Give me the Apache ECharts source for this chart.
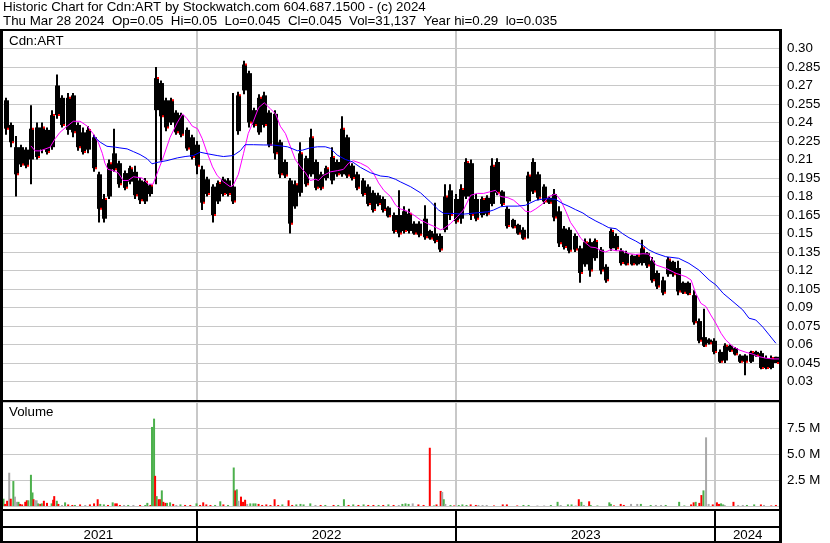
<!DOCTYPE html>
<html><head><meta charset="utf-8">
<script src="https://cdn.jsdelivr.net/npm/echarts/dist/echarts.min.js"></script>
<style>html,body{margin:0;padding:0;background:#fff}#c{width:830px;height:543px}</style>
</head><body><div id="c"></div>
<script>
// ---- DATA (weekly bars, week index 0..149, Apr 2021 - Mar 28 2024) ----
const wkHigh = [.260,.240,.229,.222,.220,.254,.240,.240,.236,.250,.279,.262,.264,.264,.240,.236,.237,.230,.200,.182,
.210,.235,.209,.201,.205,.205,.195,.195,.190,.285,.274,.260,.260,.250,.248,.236,.230,.225,.205,.196,
.190,.193,.196,.195,.264,.265,.290,.282,.252,.263,.265,.250,.250,.226,.210,.195,.193,.224,.213,.235,
.210,.200,.205,.220,.210,.245,.230,.207,.200,.195,.190,.185,.183,.180,.172,.167,.185,.172,.170,.160,
.160,.173,.153,.175,.150,.190,.190,.182,.190,.211,.210,.182,.180,.181,.211,.211,.185,.172,.162,.158,
.155,.200,.211,.200,.190,.180,.186,.172,.156,.155,.150,.140,.146,.146,.146,.139,.125,.154,.150,.138,
.136,.133,.133,.145,.135,.131,.120,.115,.131,.128,.128,.111,.111,.104,.081,.089,.065,.065,.056,.061,
.060,.058,.052,.052,.055,.055,.055,.051,.051,.050];
const wkLow = [.230,.220,.180,.204,.203,.190,.210,.215,.214,.218,.243,.236,.230,.228,.217,.214,.215,.200,.159,.159,
.178,.200,.187,.185,.190,.178,.174,.174,.180,.190,.209,.233,.238,.230,.228,.217,.210,.198,.169,.180,
.159,.174,.180,.180,.174,.230,.263,.236,.236,.230,.236,.220,.210,.195,.195,.150,.170,.180,.188,.196,
.185,.185,.193,.190,.196,.196,.195,.193,.185,.180,.172,.167,.172,.167,.163,.150,.147,.150,.150,.149,
.147,.145,.145,.142,.135,.151,.161,.158,.158,.178,.161,.160,.163,.164,.172,.181,.172,.154,.154,.149,
.145,.146,.182,.177,.174,.174,.160,.139,.137,.134,.135,.110,.123,.115,.128,.117,.110,.136,.136,.124,
.124,.124,.124,.124,.122,.110,.105,.100,.115,.115,.100,.101,.100,.076,.061,.058,.060,.052,.045,.045,
.054,.051,.045,.035,.045,.050,.040,.040,.040,.045];
const wkOpen = [.258,.238,.220,.220,.218,.210,.236,.218,.234,.220,.270,.260,.234,.262,.238,.232,.218,.228,.198,.162,
.180,.215,.207,.199,.192,.200,.193,.176,.182,.250,.272,.258,.240,.248,.246,.234,.228,.222,.202,.194,
.188,.176,.194,.193,.188,.233,.266,.280,.250,.232,.262,.248,.247,.224,.208,.193,.172,.183,.211,.198,
.208,.198,.195,.193,.208,.198,.228,.205,.198,.193,.188,.183,.181,.178,.171,.165,.165,.168,.152,.158,
.158,.162,.152,.150,.148,.153,.185,.178,.162,.180,.207,.178,.165,.179,.174,.208,.184,.170,.161,.157,
.153,.176,.208,.198,.188,.179,.182,.168,.154,.153,.148,.138,.125,.143,.130,.137,.123,.138,.148,.136,
.134,.132,.125,.126,.134,.128,.118,.112,.117,.127,.122,.110,.110,.100,.079,.066,.064,.063,.054,.047,
.059,.057,.051,.051,.046,.054,.053,.049,.041,.050];
const wkClose = [.235,.224,.198,.206,.205,.235,.212,.236,.216,.246,.246,.238,.260,.232,.220,.216,.234,.203,.170,.178,
.207,.202,.190,.187,.203,.181,.177,.192,.189,.276,.245,.236,.258,.232,.230,.219,.212,.205,.175,.182,
.165,.191,.182,.182,.176,.262,.287,.240,.238,.260,.238,.222,.215,.198,.197,.158,.190,.215,.190,.228,
.187,.187,.203,.212,.198,.235,.197,.195,.187,.182,.174,.169,.174,.169,.164,.152,.150,.152,.166,.150,
.149,.147,.146,.144,.137,.180,.165,.160,.186,.208,.165,.162,.178,.166,.205,.183,.174,.156,.155,.150,
.146,.197,.184,.179,.176,.175,.163,.142,.139,.136,.137,.118,.143,.120,.144,.120,.112,.152,.138,.126,
.125,.125,.132,.138,.124,.112,.107,.102,.129,.117,.103,.102,.101,.078,.063,.059,.061,.054,.046,.059,
.055,.052,.046,.046,.054,.051,.041,.041,.049,.045];

// moving averages: [week position, price]
const maShort = [[5.4,.221],[6.2,.217],[7.2,.217],[9.1,.220],[10.1,.227],[11.0,.232],[12.4,.237],[13.6,.241],[14.9,.241],[16.3,.237],
[17.4,.231],[18.4,.224],[19.2,.215],[19.7,.207],[20.3,.202],[21.3,.201],[22.3,.199],[23.2,.193],[24.2,.193],[25.2,.196],
[26.9,.195],[28.1,.190],[29.0,.190],[30.0,.201],[31.0,.212],[32.3,.228],[33.7,.240],[34.7,.247],[35.6,.243],[36.6,.237],
[37.6,.235],[38.5,.227],[39.5,.215],[40.5,.204],[41.4,.197],[42.6,.192],[43.9,.188],[44.5,.189],[45.5,.198],[46.5,.215],
[47.4,.231],[48.4,.241],[49.4,.252],[50.5,.256],[51.7,.251],[52.7,.247],[53.6,.237],[54.6,.231],[55.6,.220],[56.5,.210],
[57.5,.204],[58.5,.199],[59.4,.193],[60.4,.194],[61.0,.193],[61.9,.197],[63.3,.200],[64.7,.201],[65.8,.202],[66.8,.207],
[67.7,.209],[69.1,.207],[70.5,.204],[71.6,.199],[72.6,.191],[73.6,.185],[74.9,.180],[75.9,.173],[76.8,.170],[78.2,.168],
[79.4,.165],[80.7,.161],[82.1,.158],[83.2,.156],[84.6,.153],[85.2,.154],[86.5,.158],[87.9,.164],[89.0,.169],[90.4,.181],
[91.7,.1825],[92.9,.1825],[94.3,.184],[95.2,.185],[96.2,.180],[97.6,.179],[98.7,.177],[100.1,.172],[101.0,.168],[102.0,.1675],
[103.0,.170],[104.3,.174],[105.5,.180],[106.8,.182],[107.8,.177],[108.8,.168],[109.7,.159],[110.7,.153],[111.7,.146],[112.7,.142],
[113.6,.139],[114.6,.1385],[115.6,.136],[116.5,.135],[117.5,.137],[118.5,.136],[119.8,.136],[121.0,.1336],[122.3,.133],[123.7,.1336],
[124.8,.1333],[126.2,.1245],[128.1,.1218],[130.1,.1177],[132.0,.115],[133.0,.1123],[133.9,.1015],[134.9,.0934],[135.9,.0907],[136.8,.084],
[137.8,.0772],[138.8,.0691],[139.7,.0637],[141.1,.0583],[142.3,.0556],[143.6,.0537],[145.0,.0521],[146.1,.0502],[147.5,.0489],[148.8,.0483],[150.0,.0483]];
const maLong = [[17.4,.2293],[18.8,.224],[20.1,.2207],[21.7,.220],[22.6,.2194],[24.0,.2186],[25.2,.2164],[26.5,.214],[27.9,.2105],[28.8,.2065],
[30.0,.2078],[31.7,.2091],[33.7,.2113],[35.2,.2124],[36.8,.2132],[38.1,.2159],[39.7,.2145],[41.4,.2132],[42.6,.2124],[44.5,.2132],
[45.9,.2172],[46.8,.222],[48.4,.222],[50.3,.2218],[52.3,.2217],[55.0,.2203],[56.9,.2171],[57.9,.2176],[59.4,.2195],[60.8,.2203],
[62.3,.2203],[63.3,.219],[64.6,.2136],[66.2,.210],[67.5,.2082],[69.1,.2036],[71.0,.1993],[73.0,.1966],[74.5,.196],[75.9,.1939],
[76.8,.1919],[78.8,.1879],[80.7,.183],[82.6,.1757],[84.2,.169],[85.2,.1663],[86.5,.1663],[89.0,.1657],[91.7,.1668],[93.7,.1676],
[94.8,.169],[96.2,.1717],[97.5,.1722],[99.5,.1722],[101.0,.1729],[103.0,.1769],[104.9,.1783],[106.8,.1777],[108.2,.1742],[109.4,.172],
[110.7,.1693],[112.1,.1666],[113.2,.1634],[114.6,.1601],[115.9,.1574],[117.1,.1547],[118.5,.1539],[119.8,.1498],[121.0,.1466],[122.3,.1439],
[123.7,.1404],[124.8,.1368],[126.2,.1339],[128.1,.1312],[130.6,.1299],[132.6,.1258],[134.5,.1204],[136.5,.1123],[137.8,.1083],[139.2,.1015],
[141.1,.0948],[143.0,.088],[144.2,.0813],[145.5,.0799],[146.9,.074],[148.1,.0678],[149.4,.061]];

// daily volume bars: week position, millions, direction (g up, r down, n unchanged)
const volX = [0.1,0.4,0.8,1.2,1.5,2.0,2.3,2.7,3.0,3.3,3.7,4.3,4.6,4.9,5.4,5.7,5.9,6.2,6.5,6.8,7.2,7.5,7.9,8.5,9.4,9.7,9.9,10.4,10.7,11.4,
12.0,12.6,13.4,13.9,14.9,15.9,16.8,17.6,18.3,18.8,19.5,20.3,21.2,21.7,22.0,22.6,23.4,24.2,25.2,26.5,27.5,27.9,28.5,28.8,29.2,29.4,29.7,30.1,30.4,30.7,
31.0,31.4,31.7,32.3,32.9,33.5,34.3,35.2,36.2,37.4,38.1,38.7,39.3,40.1,41.0,42.0,42.6,43.5,44.6,44.9,45.2,45.5,46.0,46.4,46.8,47.2,47.8,48.4,48.8,49.4,
50.1,50.9,51.7,52.5,53.2,54.0,55.2,55.9,56.7,57.5,58.1,59.4,60.4,61.4,62.3,63.9,64.8,65.9,66.8,67.7,68.7,69.7,70.6,71.6,72.6,73.5,74.5,75.5,76.5,77.2,
77.8,78.4,79.2,80.3,81.3,82.5,83.3,83.8,84.6,84.9,85.2,85.5,86.5,87.2,88.1,88.8,89.6,90.4,91.4,91.9,92.7,93.5,94.9,96.6,97.4,99.4,100.6,101.6,103.3,104.6,
105.9,107.2,107.8,109.2,109.9,110.7,111.3,111.8,112.3,113.3,113.6,114.9,117.2,117.5,118.1,119.4,120.0,121.4,122.6,123.3,125.2,126.2,127.2,128.1,130.7,131.7,133.0,133.5,133.9,134.6,
135.0,135.4,135.9,136.4,137.2,138.0,138.4,138.8,139.2,139.5,141.2,142.1,143.0,143.8,145.2,146.5,147.1,148.5,149.4];
const volM = [0.7,0.2,0.5,3.2,0.7,2.4,0.9,0.4,0.4,0.2,0.15,0.4,0.55,0.55,3.0,1.3,0.65,0.55,0.55,0.25,0.2,0.25,0.5,0.3,0.25,0.6,0.95,0.5,0.2,0.1,
0.35,0.15,0.1,0.1,0.15,0.1,0.15,0.25,0.65,0.2,0.15,0.1,0.35,0.25,0.25,0.1,0.1,0.1,0.1,0.1,0.1,0.3,0.1,7.6,8.4,2.9,0.95,0.65,0.65,1.5,
0.4,0.3,0.3,0.35,0.2,0.1,0.15,0.1,0.1,0.25,0.1,0.35,0.15,0.1,0.1,0.45,0.15,0.1,3.7,1.5,1.6,0.5,0.9,0.4,0.6,0.2,0.25,0.25,0.25,0.2,
0.1,0.15,0.1,0.65,0.1,0.15,0.55,0.1,0.15,0.2,0.15,0.25,0.1,0.1,0.1,0.1,0.1,0.65,0.1,0.15,0.1,0.15,0.1,0.1,0.1,0.1,0.15,0.1,0.1,0.2,
0.25,0.2,0.25,0.15,0.1,5.6,0.05,0.15,1.45,1.35,0.65,0.2,0.1,0.05,0.1,0.15,0.1,0.15,0.1,0.1,0.1,0.1,0.05,0.15,0.15,0.05,0.1,0.1,0.05,0.05,
0.1,0.4,0.1,0.15,0.15,0.05,0.65,0.4,0.1,0.45,0.1,0.05,0.35,0.2,0.05,0.2,0.1,0.2,0.2,0.2,0.1,0.1,0.1,0.1,0.4,0.05,0.15,0.35,0.4,0.3,
1.05,1.5,6.6,0.2,0.15,0.35,0.2,0.25,0.15,0.1,0.4,0.1,0.1,0.1,0.15,0.15,0.1,0.05,0.1];
const volDir = ['g','r','r','n','r','g','n','n','g','r','r','r','r','g','g','g','r','n','n','g','r','g','r','r','g','r','r','g','r','n',
'g','r','r','g','r','n','r','r','r','g','g','r','g','r','r','r','n','g','n','r','g','g','r','g','g','r','g','r','r','g',
'r','r','g','g','r','n','g','r','r','g','r','r','r','r','g','g','r','g','g','r','g','n','r','r','r','n','g','g','g','r',
'r','r','r','r','r','g','r','r','g','g','g','g','n','r','g','r','g','g','r','g','r','g','r','r','g','r','g','r','n','g',
'g','g','n','r','r','r','g','r','r','n','g','n','g','r','g','g','g','r','r','n','n','n','r','r','r','r','g','g','n','n',
'g','g','n','g','g','n','r','g','n','r','g','g','g','g','r','r','r','n','n','g','g','n','n','g','g','g','r','r','g','r',
'r','g','n','n','r','r','r','g','g','n','r','n','n','g','g','r','n','r','r'];

// axes
const priceTicks = [0.03,0.045,0.06,0.075,0.09,0.105,0.12,0.135,0.15,0.165,0.18,0.195,0.21,0.225,0.24,0.255,0.27,0.285,0.30];
const priceTickLabels = ['0.03','0.045','0.06','0.075','0.09','0.105','0.12','0.135','0.15','0.165','0.18','0.195','0.21','0.225','0.24','0.255','0.27','0.285','0.30'];
const volTicks = [2.5,5,7.5];
const volTickLabels = ['2.5 M','5.0 M','7.5 M'];
const yearNames = ['2021','2022','2023','2024'];
const yearStart = [-0.6,37.5,87.6,137.7];
const yearEnd = [37.5,87.6,137.7,150.2];

const titleLine1 = 'Historic Chart for Cdn:ART by Stockwatch.com 604.687.1500 - (c) 2024';
const titleLine2 = 'Thu Mar 28 2024  Op=0.05  Hi=0.05  Lo=0.045  Cl=0.045  Vol=31,137  Year hi=0.29  lo=0.035';

// ---- CHART ----
const FONT = '"Liberation Sans", Arial, sans-serif';
const FS = 13.33;
const chart = echarts.init(document.getElementById('c'));
const colorOf = {g:'#4cb04c', r:'#ff0000', n:'#a8a8a8'};
const GRIDC = '#c8c8c8';

function fmtFrom(ticks, labels){
  return v => { const i = ticks.findIndex(t => Math.abs(t - v) < 1e-6); return i < 0 ? '' : labels[i]; };
}

const barData = wkHigh.map((h,i)=>[i+0.5, wkOpen[i], wkClose[i], wkLow[i], h]);

function renderBar(params, api){
  const x = api.value(0);
  const pO = api.coord([x, api.value(1)]), pC = api.coord([x, api.value(2)]);
  const pL = api.coord([x, api.value(3)]), pH = api.coord([x, api.value(4)]);
  const cx = Math.round(pH[0]);
  const top = Math.min(pO[1], pC[1]), bot = Math.max(pO[1], pC[1]);
  const bh = Math.max(bot - top, 3);
  return {type:'group', children:[
    {type:'rect', shape:{x:cx-1, y:pH[1], width:2, height:pL[1]-pH[1]}, style:{fill:'#000'}},
    {type:'rect', shape:{x:cx-2, y:top - (bh - (bot-top))/2, width:5, height:bh}, style:{fill:'#000'}},
    {type:'rect', shape:{x:cx+1, y:pC[1]-1, width:2, height:2}, style:{fill:'#ff0000'}}
  ]};
}
function yearLineRenderer(yTop, yBot){
  return function(params, api){
    const p = api.coord([api.value(0), yTop]);
    const q = api.coord([api.value(0), yBot]);
    return {type:'rect', shape:{x:Math.round(p[0])-1, y:p[1], width:2, height:q[1]-p[1]}, style:{fill:GRIDC}};
  };
}
function renderYear(params, api){
  const a = api.coord([api.value(0), 0]);
  const b = api.coord([api.value(1), 1]);
  const idx = params.dataIndex;
  const children = [{type:'text', style:{text: yearNames[idx], x:(a[0]+b[0])/2, y:535, align:'center', verticalAlign:'middle', font:FS + 'px ' + FONT, fill:'#000'}}];
  if (idx > 0) children.push({type:'rect', shape:{x:Math.round(a[0])-1, y:509, width:2, height:33}, style:{fill:'#000'}});
  return {type:'group', children};
}

const xBase = {type:'value', min:0, max:150, show:false};
const option = {
  animation:false,
  backgroundColor:'#fff',
  textStyle:{fontFamily:FONT},
  grid:[
    {left:3, top:30, width:776, height:370},
    {left:3, top:402, width:776, height:104},
    {left:3, top:509, width:776, height:32}
  ],
  xAxis:[Object.assign({gridIndex:0}, xBase), Object.assign({gridIndex:1}, xBase), Object.assign({gridIndex:2}, xBase)],
  yAxis:[
    {gridIndex:0, type:'value', position:'right', min:0.015, max:0.315, interval:0.015,
     axisLine:{show:false}, axisTick:{show:false},
     axisLabel:{color:'#000', fontSize:FS, fontFamily:FONT, margin:8, formatter:fmtFrom(priceTicks, priceTickLabels)},
     splitLine:{show:true, lineStyle:{color:GRIDC, width:1}}},
    {gridIndex:1, type:'value', position:'right', min:0, max:10, interval:2.5,
     axisLine:{show:false}, axisTick:{show:false},
     axisLabel:{color:'#000', fontSize:FS, fontFamily:FONT, margin:8, formatter:fmtFrom(volTicks, volTickLabels)},
     splitLine:{show:true, lineStyle:{color:GRIDC, width:1}}},
    {gridIndex:2, type:'value', min:0, max:1, show:false}
  ],
  series:[
    {type:'custom', name:'yearGridPrice', xAxisIndex:0, yAxisIndex:0, z:1, silent:true,
     data:yearStart.slice(1).map(v=>[v]), renderItem:yearLineRenderer(0.315, 0.015)},
    {type:'custom', name:'yearGridVol', xAxisIndex:1, yAxisIndex:1, z:1, silent:true,
     data:yearStart.slice(1).map(v=>[v]), renderItem:yearLineRenderer(10, 0)},
    {type:'custom', name:'price', xAxisIndex:0, yAxisIndex:0, z:3, silent:true,
     encode:{x:0, y:[1,2,3,4]}, data:barData, renderItem:renderBar},
    {type:'line', name:'maShort', xAxisIndex:0, yAxisIndex:0, z:4, data:maShort, showSymbol:false, symbol:'none', silent:true,
     lineStyle:{color:'#ff00ff', width:1}},
    {type:'line', name:'maLong', xAxisIndex:0, yAxisIndex:0, z:4, data:maLong, showSymbol:false, symbol:'none', silent:true,
     lineStyle:{color:'#0000ff', width:1}},
    {type:'bar', name:'volume', xAxisIndex:1, yAxisIndex:1, z:3, barWidth:2, silent:true,
     data:volX.map((x,i)=>({value:[x, volM[i]], itemStyle:{color:colorOf[volDir[i]]}}))},
    {type:'custom', name:'years', xAxisIndex:2, yAxisIndex:2, z:5, silent:true, clip:false,
     data:yearStart.map((s,i)=>[s, yearEnd[i]]), renderItem:renderYear}
  ],
  graphic:[
    {type:'text', left:3, top:1, z:10, style:{text:titleLine1, font:FS + 'px ' + FONT, fill:'#000'}},
    {type:'text', left:3, top:15, z:10, style:{text:titleLine2, font:FS + 'px ' + FONT, fill:'#000'}},
    {type:'text', left:9, top:35, z:10, style:{text:'Cdn:ART', font:FS + 'px ' + FONT, fill:'#000'}},
    {type:'text', left:9, top:406, z:10, style:{text:'Volume', font:FS + 'px ' + FONT, fill:'#000'}},
    {type:'rect', z:10, shape:{x:0, y:29, width:782, height:2}, style:{fill:'#000'}},
    {type:'rect', z:10, shape:{x:0, y:400, width:782, height:2}, style:{fill:'#000'}},
    {type:'rect', z:10, shape:{x:0, y:509, width:782, height:2}, style:{fill:'#000'}},
    {type:'rect', z:10, shape:{x:0, y:526, width:782, height:2}, style:{fill:'#000'}},
    {type:'rect', z:10, shape:{x:0, y:541, width:782, height:2}, style:{fill:'#000'}},
    {type:'rect', z:10, shape:{x:0, y:29, width:3, height:514}, style:{fill:'#000'}},
    {type:'rect', z:10, shape:{x:779, y:29, width:3, height:514}, style:{fill:'#000'}}
  ]
};
chart.setOption(option);
</script></body></html>
